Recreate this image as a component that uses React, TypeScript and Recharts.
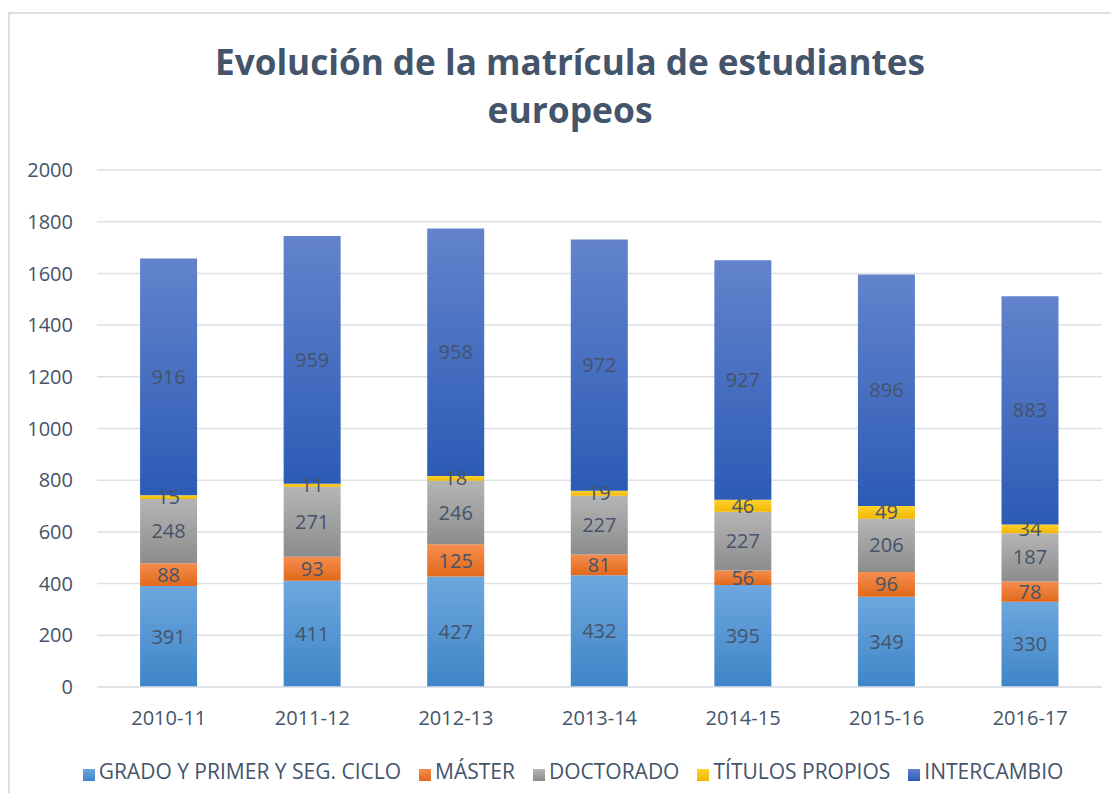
import React from "react";
import {
  Bar,
  BarChart,
  CartesianGrid,
  LabelList,
  Legend,
  XAxis,
  YAxis,
} from "recharts";

const periods = ["2010-11", "2011-12", "2012-13", "2013-14", "2014-15", "2015-16", "2016-17"];
const grado = [391, 411, 427, 432, 395, 349, 330];
const master = [88, 93, 125, 81, 56, 96, 78];
const doctorado = [248, 271, 246, 227, 227, 206, 187];
const titulos = [15, 11, 18, 19, 46, 49, 34];
const intercambio = [916, 959, 958, 972, 927, 896, 883];
const yTicks = [0, 200, 400, 600, 800, 1000, 1200, 1400, 1600, 1800, 2000];

const data = periods.map((p, i) => ({
  name: p,
  grado: grado[i],
  master: master[i],
  doctorado: doctorado[i],
  titulos: titulos[i],
  intercambio: intercambio[i],
}));

const series = [
  { key: "grado", name: "GRADO Y PRIMER Y SEG. CICLO", top: "#6DA7DE", bottom: "#3F85C7" },
  { key: "master", name: "MÁSTER", top: "#F58D4E", bottom: "#E1691A" },
  { key: "doctorado", name: "DOCTORADO", top: "#B5B5B5", bottom: "#8C8C8C" },
  { key: "titulos", name: "TÍTULOS PROPIOS", top: "#FFD230", bottom: "#EFB700" },
  { key: "intercambio", name: "INTERCAMBIO", top: "#6383CC", bottom: "#2C5BB5" },
];
const seriesOrder = series.map((s) => s.name);

const textColor = "#44546A";
const font = "'Open Sans', sans-serif";

export default function App() {
  return (
    <div style={{ position: "relative", width: 1119, height: 801, margin: -8, overflow: "hidden", background: "#fff" }}>
      <div
        style={{
          position: "absolute",
          left: 8,
          top: 12,
          width: 1130,
          height: 820,
          border: "2px solid #DCE0E5",
          boxSizing: "border-box",
        }}
      />
      <svg style={{ position: "absolute", left: 0, top: 0 }} width={1119} height={140}>
        <text
          x={570}
          y={75}
          textAnchor="middle"
          textLength={710}
          lengthAdjust="spacingAndGlyphs"
          fill={textColor}
          fontFamily={font}
          fontWeight={700}
          fontSize={36}
        >
          Evolución de la matrícula de estudiantes
        </text>
        <text
          x={570}
          y={123}
          textAnchor="middle"
          textLength={165}
          lengthAdjust="spacingAndGlyphs"
          fill={textColor}
          fontFamily={font}
          fontWeight={700}
          fontSize={36}
        >
          europeos
        </text>
      </svg>
      <div style={{ position: "absolute", left: 0, top: 0 }}>
        <BarChart
          width={1119}
          height={801}
          data={data}
          barCategoryGap="30%"
          margin={{ top: 170, right: 17, left: 0, bottom: 46 }}
        >
          <defs>
            {series.map((s) => (
              <linearGradient key={s.key} id={"g-" + s.key} x1="0" y1="0" x2="0" y2="1">
                <stop offset="0%" stopColor={s.top} />
                <stop offset="100%" stopColor={s.bottom} />
              </linearGradient>
            ))}
          </defs>
          <CartesianGrid vertical={false} stroke="#DDE1E6" strokeWidth={1.5} />
          <XAxis
            dataKey="name"
            height={40}
            tickSize={0}
            tickMargin={24}
            axisLine={{ stroke: "#DDE1E6", strokeWidth: 1.5 }}
            tickLine={false}
            tick={{ fill: textColor, fontSize: 20, fontFamily: font }}
          />
          <YAxis
            width={97}
            domain={[0, 2000]}
            ticks={yTicks}
            interval={0}
            tickSize={0}
            tickMargin={24}
            axisLine={false}
            tickLine={false}
            tick={{ fill: textColor, fontSize: 20, fontFamily: font }}
          />
          <Legend
            verticalAlign="bottom"
            iconType="square"
            iconSize={12}
            itemSorter={(item: any) => seriesOrder.indexOf(item.value)}
            wrapperStyle={{ bottom: 16, left: 31 }}
            formatter={(value) => (
              <span style={{ color: textColor, fontSize: 21, fontFamily: font, marginRight: 8 }}>{value}</span>
            )}
          />
          {series.map((s) => (
            <Bar
              key={s.key}
              dataKey={s.key}
              name={s.name}
              stackId="a"
              fill={`url(#g-${s.key})`}
              isAnimationActive={false}
            >
              <LabelList
                dataKey={s.key}
                position="center"
                fill={textColor}
                fontSize={20}
                fontFamily={font}
              />
            </Bar>
          ))}
        </BarChart>
      </div>
    </div>
  );
}
